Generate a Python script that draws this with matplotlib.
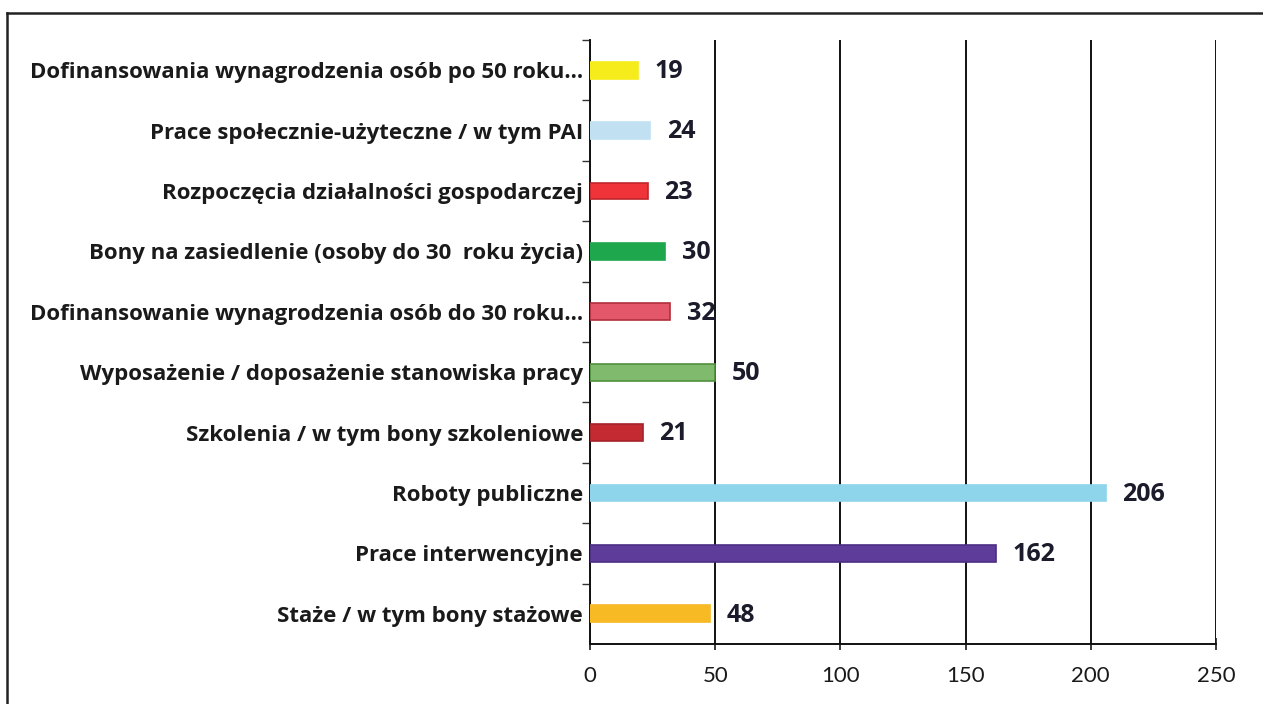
import matplotlib
matplotlib.use("Agg")
import matplotlib.pyplot as plt
from matplotlib.lines import Line2D

categories = [
    "Staże / w tym bony stażowe",
    "Prace interwencyjne",
    "Roboty publiczne",
    "Szkolenia / w tym bony szkoleniowe",
    "Wyposażenie / doposażenie stanowiska pracy",
    "Dofinansowanie wynagrodzenia osób do 30 roku...",
    "Bony na zasiedlenie (osoby do 30  roku życia)",
    "Rozpoczęcia działalności gospodarczej",
    "Prace społecznie-użyteczne / w tym PAI",
    "Dofinansowania wynagrodzenia osób po 50 roku...",
]
values = [48, 162, 206, 21, 50, 32, 30, 23, 24, 19]
colors = ["#F7B924", "#5E3D9A", "#8ED4EB", "#C42A31", "#80BA6C",
          "#E4566A", "#1FA74E", "#EF3338", "#C1E1F3", "#F6EC1C"]
edges = ["#F7B924", "#4B2F84", "#8ED4EB", "#A5232A", "#4F8F3E",
         "#B0303C", "#1FA74E", "#C0262C", "#C1E1F3", "#F6EC1C"]
xticks = [0, 50, 100, 150, 200, 250]

plt.rcParams['font.family'] = ['Open Sans', 'DejaVu Sans']

fig = plt.figure(figsize=(12.63, 7.04), dpi=100)
ax = fig.add_axes([590/1263, 60/704, 626/1263, 604/704])

ypos = list(range(len(categories)))
ax.barh(ypos, values, height=0.28, color=colors, edgecolor=edges, linewidth=1.2, zorder=3)

for y, v in zip(ypos, values):
    ax.annotate(str(v), xy=(v, y), xytext=(12, -1), textcoords="offset points",
                va="center", ha="left", fontsize=18, fontweight="bold",
                color="#1b1b2b", zorder=4)

ax.set_xlim(0, 250)
ax.set_ylim(-0.5, len(categories) - 0.5)
ax.set_xticks(xticks)
ax.set_xticklabels([str(t) for t in xticks], fontsize=16, color="#1a1a1a",
                   family=['Lato', 'DejaVu Sans'])
ax.tick_params(axis="x", length=8, width=1.2, direction="inout", pad=12, colors="#1a1a1a")
ax.xaxis.grid(True, color="#111111", linewidth=1.4, zorder=1)

ax.set_yticks([y + 0.5 for y in ypos[:-1]] + [len(categories) - 0.5])
ax.set_yticklabels([])
ax.tick_params(axis="y", length=6, width=1.0, direction="out", colors="#333333")
ax.set_yticks(ypos, minor=True)
ax.set_yticklabels(categories, minor=True, fontsize=16, fontweight="bold", color="#1a1a1a")
ax.tick_params(axis="y", which="minor", length=0, pad=5)

for s in ["top", "right"]:
    ax.spines[s].set_visible(False)
ax.spines["left"].set_linewidth(1.4)
ax.spines["bottom"].set_linewidth(1.4)
ax.spines["left"].set_color("#111111")
ax.spines["bottom"].set_color("#111111")
ax.set_axisbelow(True)

# outer frame (left and top lines visible)
fig.add_artist(Line2D([7/1263, 7/1263], [0, 1 - 13/704], transform=fig.transFigure,
                      color="#222222", linewidth=1.8))
fig.add_artist(Line2D([7/1263, 1], [1 - 13/704, 1 - 13/704], transform=fig.transFigure,
                      color="#222222", linewidth=1.8))

fig.savefig("out.png", dpi=100)
